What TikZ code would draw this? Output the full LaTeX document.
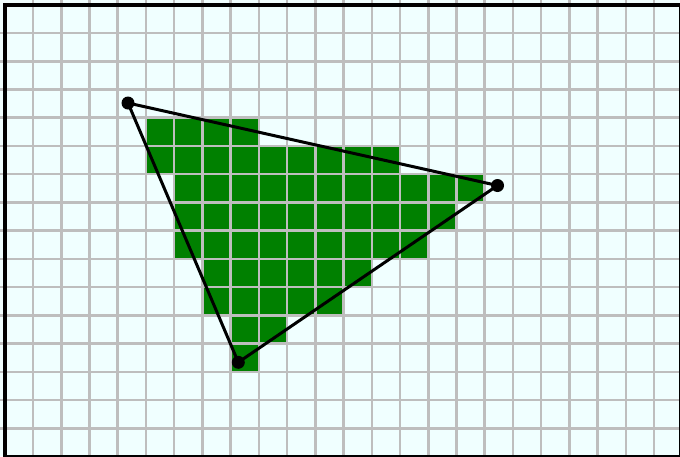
\documentclass[tikz,border=0pt]{standalone}
\definecolor{bgazure}{RGB}{240,255,255}
\definecolor{gridgray}{RGB}{190,190,190}
\definecolor{cellgreen}{RGB}{0,128,0}
\begin{document}
\begin{tikzpicture}[x=1pt,y=-1pt,
  gridline/.style={draw=gridgray,line width=2.5pt},
  cellfill/.style={fill=cellgreen},
  edge/.style={draw=black,line width=3pt},
  vdot/.style={circle,fill=black,inner sep=0pt,minimum size=13pt}]
\def\cs{28.23}
\def\ox{4.8}
\useasboundingbox (0,0) rectangle (680,456);
\clip (0,0) rectangle (680,456);
\fill[bgazure] (0,0) rectangle (680,456);
% green cells: row/first col/last col
\foreach \r/\a/\b in {4/5/8,5/5/13,6/6/16,7/6/15,8/6/14,9/7/12,10/7/11,11/8/9,12/8/8}{
  \fill[cellfill] ({\ox+\cs*\a},{\ox+\cs*\r}) rectangle ({\ox+\cs*(\b+1)},{\ox+\cs*(\r+1)});
}
\foreach \k in {1,...,23}{
  \draw[gridline] ({\ox+\cs*\k},0) -- ({\ox+\cs*\k},456);
}
\foreach \k in {1,...,15}{
  \draw[gridline] (0,{\ox+\cs*\k}) -- (680,{\ox+\cs*\k});
}
\draw[black,line width=3.6pt] (\ox,\ox) rectangle (680.5,456.5);
\node[vdot] (A) at (128,103) {};
\node[vdot] (B) at (497.5,185.5) {};
\node[vdot] (C) at (238.3,362.3) {};
\draw[edge] (A.center) -- (B.center) -- (C.center) -- (A.center);
\end{tikzpicture}
\end{document}
